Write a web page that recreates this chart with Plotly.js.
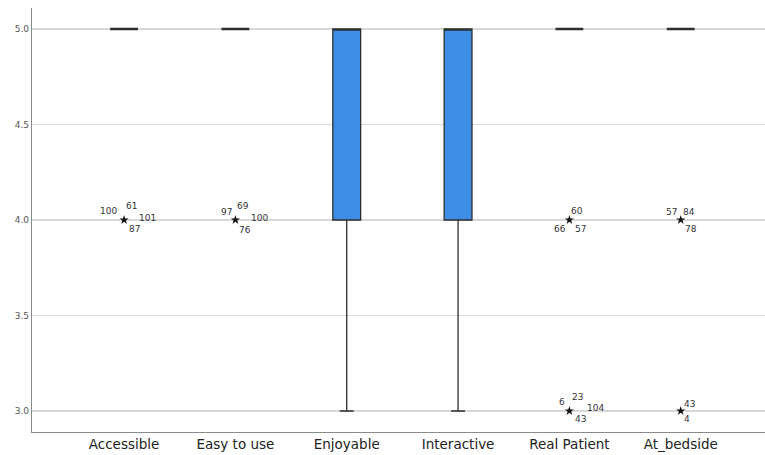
<!DOCTYPE html>
<html>
<head>
<meta charset="utf-8">
<script src="https://cdn.plot.ly/plotly-3.0.1.min.js"></script>
<style>html,body{margin:0;padding:0;background:#fff;}#chart{width:765px;height:455px;}</style>
</head>
<body>
<div id="chart"></div>
<script>
// Categories and box statistics
const categories = ['Accessible', 'Easy to use', 'Enjoyable', 'Interactive', 'Real Patient', 'At_bedside'];
const q1Values      = [5, 5, 4, 4, 5, 5];
const medianValues  = [5, 5, 5, 5, 5, 5];
const q3Values      = [5, 5, 5, 5, 5, 5];
const lowerWhisker  = [5, 5, 3, 3, 5, 5];
const upperWhisker  = [5, 5, 5, 5, 5, 5];

// Outliers (extreme values, drawn as stars) with their case numbers
const outlierCategory = ['Accessible', 'Easy to use', 'Real Patient', 'At_bedside', 'Real Patient', 'At_bedside'];
const outlierValue    = [4, 4, 4, 4, 3, 3];
const outlierCases    = [
  ['100', '61', '101', '87'],
  ['97', '69', '100', '76'],
  ['60', '66', '57'],
  ['57', '84', '78'],
  ['6', '23', '104', '43'],
  ['43', '4']
];
// Label placement around each star (pixels)
const caseOffsets = [
  [[-16, -9], [7, -14], [23, -2], [10, 9]],
  [[-9, -8], [8, -14], [24, -2], [10, 10]],
  [[8, -9], [-9, 9], [11, 9]],
  [[-9, -8], [8, -8], [10, 9]],
  [[-7, -9], [8, -14], [26, -3], [11, 8]],
  [[9, -7], [6, 8]]
];

const yTicks = [3.0, 3.5, 4.0, 4.5, 5.0];
const yTickText = ['3.0', '3.5', '4.0', '4.5', '5.0'];

const flatIdx = [], boxIdx = [];
q1Values.forEach((q, i) => (q === q3Values[i] ? flatIdx : boxIdx).push(i));
const pick = (arr, idx) => idx.map(i => arr[i]);

function boxTrace(idx, lw, fill) {
  return {
    type: 'box',
    x: pick(categories, idx),
    q1: pick(q1Values, idx),
    median: pick(medianValues, idx),
    q3: pick(q3Values, idx),
    lowerfence: pick(lowerWhisker, idx),
    upperfence: pick(upperWhisker, idx),
    width: 0.25,
    whiskerwidth: 0.5,
    fillcolor: fill,
    line: {color: '#2e2e2e', width: lw},
    boxpoints: false,
    hoverinfo: 'skip',
    showlegend: false
  };
}

const traces = [
  boxTrace(boxIdx, 1.3, '#3e8ee8'),
  boxTrace(flatIdx, 2.6, '#3e8ee8'),
  {
    type: 'scatter',
    mode: 'markers',
    x: outlierCategory,
    y: outlierValue,
    marker: {symbol: 'star', size: 7, color: '#111'},
    hoverinfo: 'skip',
    showlegend: false
  }
];

const annotations = [];
outlierCases.forEach((labels, i) => {
  labels.forEach((t, j) => {
    annotations.push({
      x: outlierCategory[i], y: outlierValue[i], xref: 'x', yref: 'y',
      text: t, showarrow: false,
      xshift: caseOffsets[i][j][0], yshift: -caseOffsets[i][j][1],
      font: {family: 'DejaVu Sans, sans-serif', size: 9, color: '#333'},
      xanchor: 'center', yanchor: 'middle'
    });
  });
});

const layout = {
  width: 765, height: 455,
  margin: {l: 32, r: 0, t: 8, b: 23},
  paper_bgcolor: '#fff', plot_bgcolor: '#fff',
  boxmode: 'overlay',
  showlegend: false,
  xaxis: {
    type: 'category',
    categoryorder: 'array', categoryarray: categories,
    range: [-0.827, 5.757],
    showgrid: false, zeroline: false,
    showline: true, linecolor: '#8a8a8a', linewidth: 1.2,
    ticks: '',
    tickfont: {family: 'DejaVu Sans, sans-serif', size: 13.5, color: '#222'}
  },
  yaxis: {
    range: [2.89, 5.11],
    tickvals: yTicks, ticktext: yTickText,
    showgrid: true, gridcolor: '#d8d8d8', gridwidth: 1.3,
    zeroline: false,
    showline: true, linecolor: '#8a8a8a', linewidth: 1.2,
    ticks: '',
    tickfont: {family: 'DejaVu Sans, sans-serif', size: 9, color: '#555'}
  },
  annotations: annotations
};

Plotly.newPlot('chart', traces, layout, {displayModeBar: false, staticPlot: true});
</script>
</body>
</html>
